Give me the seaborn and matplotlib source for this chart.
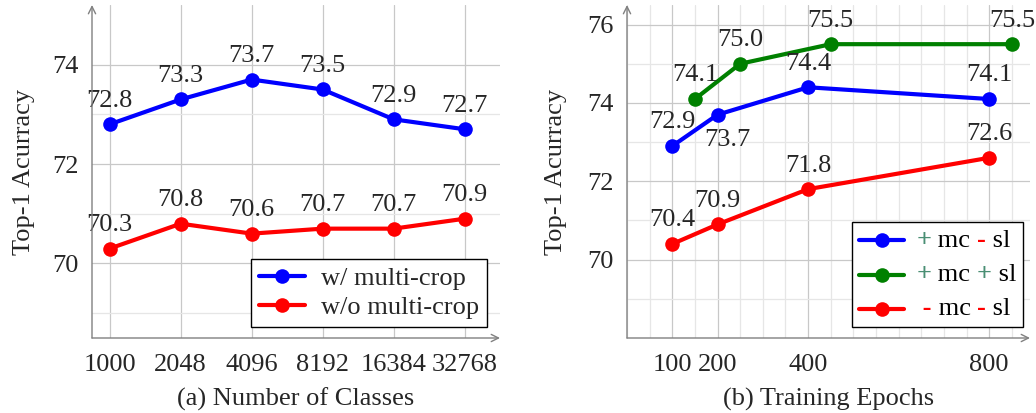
import seaborn as sns
import pandas as pd
import matplotlib.pyplot as plt
from matplotlib.lines import Line2D
from matplotlib.offsetbox import AnchoredOffsetbox, DrawingArea, HPacker, VPacker, TextArea

# (a) number of classes
classes = ['1000', '2048', '4096', '8192', '16384', '32768']
acc_with_mc = [72.8, 73.3, 73.7, 73.5, 72.9, 72.7]
acc_without_mc = [70.3, 70.8, 70.6, 70.7, 70.7, 70.9]

# (b) training epochs
epochs = [100, 200, 400, 800]
epochs_mc_sl = [150, 250, 450, 850]
acc_mc_nosl = [72.9, 73.7, 74.4, 74.1]
acc_mc_sl = [74.1, 75.0, 75.5, 75.5]
acc_nomc_nosl = [70.4, 70.9, 71.8, 72.6]

FONT = 'Liberation Serif'
FS = 19
LW = 3.0
MS = 10.5
AXIS_COL = '#808080'
PLUS_COL = '#4a8f74'
MINUS_COL = '#ff0000'


def axis_settings(ax):
    for s in ['top', 'right', 'left', 'bottom']:
        ax.spines[s].set_visible(False)
    arrow = dict(arrowstyle='->', color=AXIS_COL, lw=1.0, shrinkA=0, shrinkB=0, mutation_scale=13)
    ax.annotate('', xy=(1.0, 0), xytext=(0, 0), xycoords='axes fraction', arrowprops=arrow)
    ax.annotate('', xy=(0, 1.0), xytext=(0, 0), xycoords='axes fraction', arrowprops=arrow)
    ax.tick_params(axis='both', which='both', direction='inout', length=7, width=0.9,
                   color=AXIS_COL, labelsize=FS, pad=6)
    ax.tick_params(axis='x', which='both', pad=8)
    ax.grid(which='major', color='#c8c8c8', linewidth=0.9)
    ax.grid(which='minor', color='#e6e6e6', linewidth=0.9)
    ax.set_axisbelow(True)
    ax.set_ylabel('Top-1 Acurracy', fontsize=FS)


def add_labels(ax, xs, ys, offsets=None):
    for i, (x, y) in enumerate(zip(xs, ys)):
        dx, dy = (0, 17)
        if offsets and i in offsets:
            dx, dy = offsets[i]
        ax.annotate(f'{y:.1f}', (x, y), xytext=(dx, dy), textcoords='offset points',
                    ha='center', va='center', fontsize=FS)


def legend_row(color, parts):
    da = DrawingArea(32, 12, 0, 0)
    da.add_artist(Line2D([0, 32], [6, 6], color=color, lw=LW))
    da.add_artist(Line2D([16], [6], color=color, marker='o', ms=MS, mew=0, lw=0))
    texts = [TextArea(t, textprops=dict(color=c, fontsize=FS, family=FONT, fontweight=w))
             for t, c, w in parts]
    return HPacker(children=[da, HPacker(children=texts, align='baseline', pad=0, sep=0)],
                   align='center', pad=0, sep=9)


def make_plot():
    fig = plt.figure(figsize=(10.36, 4.13), dpi=100)
    ax1 = fig.add_axes([92 / 1036, 75 / 413, 408 / 1036, 333 / 413])
    ax2 = fig.add_axes([627 / 1036, 75 / 413, 403 / 1036, 333 / 413])

    # ---- (a) ----
    pos = list(range(len(classes)))
    df_a = pd.DataFrame({'pos': pos, 'with': acc_with_mc, 'without': acc_without_mc})
    sns.lineplot(data=df_a, x='pos', y='with', color='#0000ff', marker='o', markersize=MS,
                 markeredgewidth=0, linewidth=LW, label='w/ multi-crop', ax=ax1, zorder=3)
    sns.lineplot(data=df_a, x='pos', y='without', color='#ff0000', marker='o', markersize=MS,
                 markeredgewidth=0, linewidth=LW, label='w/o multi-crop', ax=ax1, zorder=3)
    add_labels(ax1, pos, acc_with_mc)
    add_labels(ax1, pos, acc_without_mc)
    ax1.set_xlim(-0.25, 5.5)
    ax1.set_ylim(68.5, 75.2)
    ax1.set_xticks(pos)
    ax1.set_xticklabels(classes)
    ax1.set_yticks([70, 72, 74])
    ax1.set_yticks([69, 71, 73], minor=True)
    axis_settings(ax1)
    ax1.set_xlabel('(a) Number of Classes', fontsize=FS)
    ax1.yaxis.set_label_coords(-0.14, 0.5)
    ax1.xaxis.set_label_coords(0.5, -0.15)
    leg = ax1.legend(loc='lower right', bbox_to_anchor=(0.968, 0.033), borderaxespad=0,
                     fancybox=False, edgecolor='black', framealpha=1, fontsize=FS,
                     handlelength=1.75, handletextpad=0.6, borderpad=0.3, labelspacing=0.2)
    leg.get_frame().set_linewidth(1.0)

    # ---- (b) ----
    sns.lineplot(x=epochs, y=acc_mc_nosl, color='#0000ff', marker='o', markersize=MS,
                 markeredgewidth=0, linewidth=LW, ax=ax2, zorder=3)
    sns.lineplot(x=epochs_mc_sl, y=acc_mc_sl, color='#008000', marker='o', markersize=MS,
                 markeredgewidth=0, linewidth=LW, ax=ax2, zorder=3)
    sns.lineplot(x=epochs, y=acc_nomc_nosl, color='#ff0000', marker='o', markersize=MS,
                 markeredgewidth=0, linewidth=LW, ax=ax2, zorder=3)
    add_labels(ax2, epochs, acc_mc_nosl, offsets={1: (7, -18)})
    add_labels(ax2, epochs_mc_sl, acc_mc_sl)
    add_labels(ax2, epochs, acc_nomc_nosl)
    ax2.set_xlim(0, 890)
    ax2.set_ylim(68.0, 76.5)
    ax2.set_xticks(epochs)
    ax2.set_xticks(range(0, 900, 50), minor=True)
    ax2.set_yticks([70, 72, 74, 76])
    ax2.set_yticks([69, 71, 73, 75], minor=True)
    axis_settings(ax2)
    ax2.set_xlabel('(b) Training Epochs', fontsize=FS)
    ax2.yaxis.set_label_coords(-0.15, 0.5)
    ax2.xaxis.set_label_coords(0.5, -0.15)

    P = ('+', PLUS_COL, 'bold')
    M = ('-', MINUS_COL, 'bold')
    rows = [
        legend_row('#0000ff', [P, (' mc ', 'black', 'normal'), M, (' sl', 'black', 'normal')]),
        legend_row('#008000', [P, (' mc ', 'black', 'normal'), P, (' sl', 'black', 'normal')]),
        legend_row('#ff0000', [(' -', MINUS_COL, 'bold'), (' mc ', 'black', 'normal'), M,
                               (' sl', 'black', 'normal')]),
    ]
    box = AnchoredOffsetbox(loc='lower right', child=VPacker(children=rows, align='left', pad=0, sep=8),
                            bbox_to_anchor=(0.983, 0.033), bbox_transform=ax2.transAxes,
                            frameon=True, borderpad=0, pad=0.45)
    box.patch.set_boxstyle('square', pad=0)
    box.patch.set_edgecolor('black')
    box.patch.set_linewidth(1.0)
    box.set_zorder(5)
    ax2.add_artist(box)

    fig.savefig('out.png', dpi=100)


def main():
    sns.set_theme(style='white')
    plt.rcParams['font.family'] = [FONT, 'DejaVu Serif']
    make_plot()


if __name__ == '__main__':
    main()
